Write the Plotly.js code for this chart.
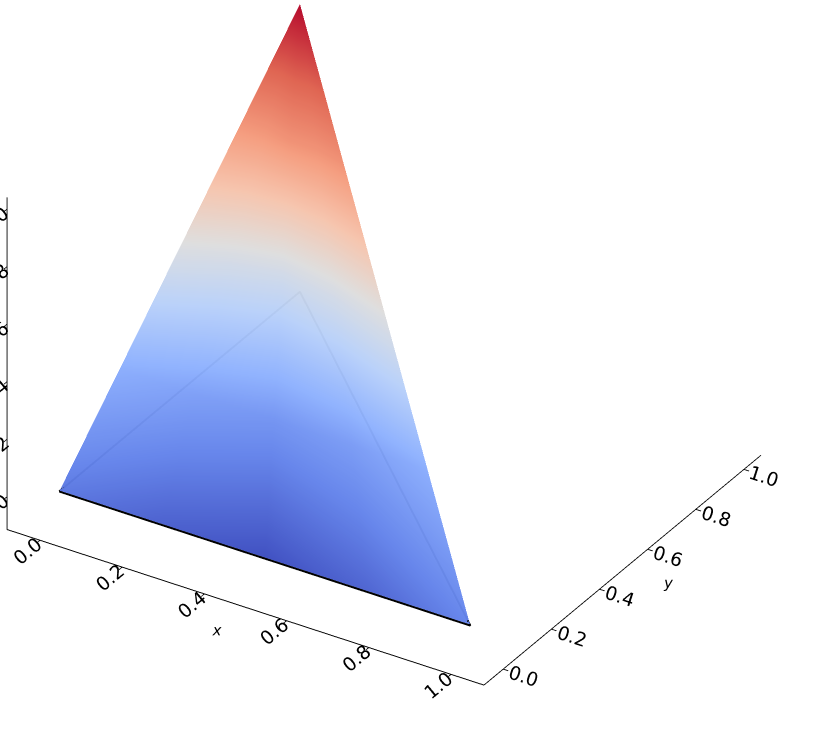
<!DOCTYPE html>
<html>
<head>
<meta charset="utf-8">
<script src="https://cdn.plot.ly/plotly-3.0.1.min.js"></script>
<style>
  html, body { margin: 0; padding: 0; background: #ffffff; }
  #chart { width: 830px; height: 752px; }
</style>
</head>
<body>
<div id="chart"></div>
<script>
// surface rows: y (= z) fixed per row, x runs from 0 to the hypotenuse x = 1 - y
const surfX = [
  [0, 0.25, 0.5, 0.75, 1],
  [0, 0.1875, 0.375, 0.5625, 0.75],
  [0, 0.125, 0.25, 0.375, 0.5],
  [0, 0.0625, 0.125, 0.1875, 0.25],
  [0, 0, 0, 0, 0],
];
const surfY = [
  [0, 0, 0, 0, 0],
  [0.25, 0.25, 0.25, 0.25, 0.25],
  [0.5, 0.5, 0.5, 0.5, 0.5],
  [0.75, 0.75, 0.75, 0.75, 0.75],
  [1, 1, 1, 1, 1],
];
const surfZ = [
  [0, 0, 0, 0, 0],
  [0.25, 0.25, 0.25, 0.25, 0.25],
  [0.5, 0.5, 0.5, 0.5, 0.5],
  [0.75, 0.75, 0.75, 0.75, 0.75],
  [1, 1, 1, 1, 1],
];
// colour value read at each vertex (0 = deep blue, 1 = deep red)
const surfValue = [
  [0.10, 0.04, 0.0, 0.05, 0.13],
  [0.24, 0.20, 0.17, 0.19, 0.24],
  [0.49, 0.46, 0.44, 0.46, 0.50],
  [0.76, 0.76, 0.77, 0.77, 0.78],
  [1.0, 1.0, 1.0, 1.0, 1.0],
];

// base triangle outline in the z = 0 plane
const baseX = [0, 1, 0, 0];
const baseY = [0, 0, 1, 0];
const baseZ = [0, 0, 0, 0];

const tickVals = [0, 0.2, 0.4, 0.6, 0.8, 1.0];

const coolwarm = [
  [0, 'rgb(59,76,192)'],
  [0.125, 'rgb(98,130,234)'],
  [0.25, 'rgb(141,176,254)'],
  [0.375, 'rgb(184,208,249)'],
  [0.5, 'rgb(221,221,221)'],
  [0.625, 'rgb(245,196,173)'],
  [0.75, 'rgb(244,154,123)'],
  [0.875, 'rgb(222,96,77)'],
  [1, 'rgb(180,4,38)'],
];

const tickFont = { family: 'DejaVu Sans, sans-serif', size: 15, color: '#000000' };

function axis(range, title) {
  return {
    range,
    tickvals: tickVals,
    tickformat: '.1f',
    showgrid: false,
    zeroline: false,
    showbackground: false,
    showspikes: false,
    showline: true,
    linecolor: '#000000',
    linewidth: 2,
    ticks: 'outside',
    ticklen: 6,
    tickwidth: 2,
    tickcolor: '#000000',
    tickfont: tickFont,
    title: { text: title, font: { family: 'DejaVu Sans, sans-serif', size: 15, color: '#000000', style: 'italic' } },
  };
}

const traces = [
  {
    type: 'scatter3d',
    mode: 'lines',
    x: baseX,
    y: baseY,
    z: baseZ,
    line: { color: '#000000', width: 4 },
    showlegend: false,
    hoverinfo: 'skip',
  },
  {
    type: 'surface',
    x: surfX,
    y: surfY,
    z: surfZ,
    surfacecolor: surfValue,
    cmin: 0,
    cmax: 1,
    colorscale: coolwarm,
    showscale: false,
    opacity: 0.97,
    lighting: { ambient: 1, diffuse: 0, specular: 0, roughness: 1, fresnel: 0 },
    hoverinfo: 'skip',
  },
];

// view: azimuth about -58 deg, elevation about 31 deg; eye = center + 2 * direction
const center = { x: 0.1064, y: -0.0141, z: -0.1125 };
const viewDir = { x: 0.4535, y: -0.7233, z: 0.52 };
const dist = 2;

const layout = {
  width: 830,
  height: 752,
  margin: { l: 0, r: 0, t: 0, b: 0 },
  paper_bgcolor: '#ffffff',
  showlegend: false,
  scene: {
    domain: { x: [0, 1], y: [0, 1] },
    aspectmode: 'manual',
    aspectratio: { x: 1.497, y: 1.386, z: 1.034 },
    xaxis: axis([-0.08, 1.08], 'x'),
    yaxis: axis([-0.08, 1.07], 'y'),
    zaxis: axis([-0.114, 1.04], ''),
    camera: {
      eye: { x: center.x + dist * viewDir.x, y: center.y + dist * viewDir.y, z: center.z + dist * viewDir.z },
      center,
      up: { x: 0, y: 0, z: 1 },
      projection: { type: 'orthographic' },
    },
  },
};

Plotly.newPlot('chart', traces, layout, { displayModeBar: false });
</script>
</body>
</html>
